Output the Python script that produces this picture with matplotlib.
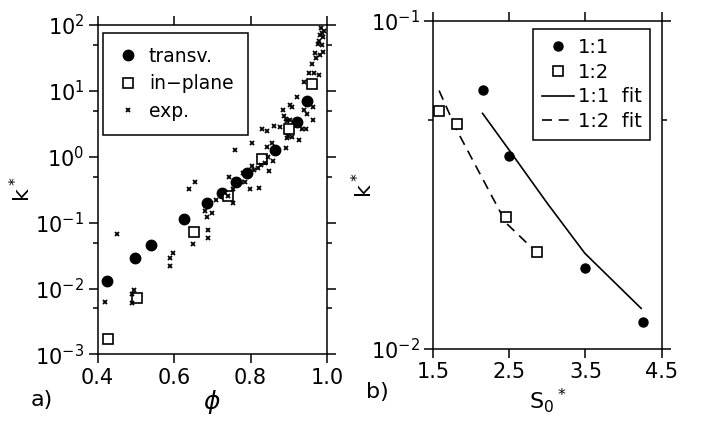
import numpy as np
import matplotlib.pyplot as plt
from matplotlib.ticker import LogLocator, NullFormatter, FixedLocator

# panel a) -- k* vs phi
phi_tr = [0.426, 0.498, 0.539, 0.625, 0.686, 0.725, 0.761, 0.790, 0.865, 0.921, 0.948]
k_tr = [0.0129, 0.0288, 0.0454, 0.114, 0.196, 0.281, 0.418, 0.566, 1.26, 3.35, 7.05]

phi_ip = [0.428, 0.502, 0.652, 0.741, 0.831, 0.900, 0.962]
k_ip = [0.00169, 0.00715, 0.0723, 0.251, 0.933, 2.62, 12.6]

phi_exp = [0.420, 0.450, 0.489, 0.489, 0.496, 0.590, 0.590, 0.597, 0.639, 0.650,
           0.655, 0.681, 0.685, 0.690, 0.690, 0.699, 0.709, 0.733, 0.742, 0.745,
           0.753, 0.755, 0.759, 0.759, 0.775, 0.780, 0.786, 0.799, 0.803, 0.805,
           0.810, 0.820, 0.823, 0.827, 0.829, 0.838, 0.844, 0.844, 0.847, 0.848,
           0.855, 0.860, 0.862, 0.877, 0.884, 0.888, 0.893, 0.893, 0.895, 0.895,
           0.899, 0.903, 0.903, 0.908, 0.909, 0.921, 0.928, 0.934, 0.940, 0.941,
           0.945, 0.947, 0.952, 0.952, 0.962, 0.963, 0.964, 0.967, 0.969, 0.970,
           0.976, 0.979, 0.980, 0.982, 0.982, 0.984, 0.986, 0.986, 0.989, 0.990,
           0.992]
k_exp = [6.2e-3, 6.8e-2, 8.3e-3, 6.0e-3, 9.5e-3, 2.9e-2, 2.2e-2, 3.5e-2, 0.32, 4.7e-2,
         0.42, 0.15, 0.12, 7.8e-2, 5.8e-2, 0.14, 0.22, 0.28, 0.25, 0.49,
         0.20, 0.32, 1.26, 0.45, 0.41, 0.56, 0.41, 0.32, 1.6, 0.72,
         0.62, 0.68, 0.34, 0.76, 2.6, 0.81, 2.5, 1.4, 0.99, 0.60,
         1.6, 0.85, 2.95, 2.8, 5.2, 4.1, 3.7, 1.35, 3.5, 1.9,
         2.1, 6.2, 3.6, 2.0, 5.6, 8.1, 1.8, 2.6, 5.2, 13.8,
         2.6, 4.5, 18.6, 7.2, 25.7, 5.6, 3.6, 18.6, 37, 32,
         52, 17.4, 58, 71, 35, 89, 76, 50, 65, 39,
         81]

# panel b) -- k* vs S0*
s_11 = [2.15, 2.50, 3.50, 4.25]
k_11 = [0.0616, 0.0387, 0.0177, 0.0121]
s_12 = [1.58, 1.81, 2.46, 2.87]
k_12 = [0.0532, 0.0484, 0.0252, 0.0197]
s_11fit = [2.15, 2.50, 3.00, 3.49, 4.23]
k_11fit = [0.0523, 0.0404, 0.0278, 0.0196, 0.0133]
s_12fit = [1.58, 1.81, 2.46, 2.87]
k_12fit = [0.0614, 0.0466, 0.0242, 0.0196]

plt.rcParams['font.family'] = 'DejaVu Sans'
plt.rcParams['axes.linewidth'] = 1.1
plt.rcParams['mathtext.default'] = 'regular'

fig = plt.figure(figsize=(7.04, 4.21), dpi=100)
ax1 = fig.add_axes([0.1385, 0.158, 0.326, 0.7827])
ax2 = fig.add_axes([0.615, 0.171, 0.325, 0.779])

ax1.plot(phi_tr, k_tr, 'o', color='black', ms=7.5, label='transv.')
ax1.plot(phi_ip, k_ip, 's', mfc='white', mec='black', mew=1.2, ms=7, label='in\u2212plane')
ax1.plot(phi_exp, k_exp, 'x', color='black', ms=3.2, mew=1.3, label='exp.')
ax1.set_yscale('log')
ax1.set_xlim(0.4, 1.0)
ax1.set_ylim(1e-3, 1e2)
ax1.set_xticks([0.4, 0.6, 0.8, 1.0])
ax1.set_xticklabels(['0.4', '0.6', '0.8', '1.0'])
ax1.yaxis.set_major_locator(LogLocator(base=10, numticks=10))
ax1.yaxis.set_minor_locator(LogLocator(base=10, subs=[5.0], numticks=10))
ax1.yaxis.set_minor_formatter(NullFormatter())
ax1.set_xlabel(r'$\it{\phi}$', fontsize=18, labelpad=0)
ax1.set_ylabel('k$^*$', fontsize=16, labelpad=1)
leg1 = ax1.legend(loc='upper left', bbox_to_anchor=(0.024, 0.976), borderaxespad=0,
                  fontsize=13.5, fancybox=False, edgecolor='black', framealpha=1,
                  handlelength=1.2, handletextpad=0.5, labelspacing=0.45, borderpad=0.75)
leg1.get_frame().set_linewidth(1.1)
fig.text(0.043, 0.035, 'a)', fontsize=16)

ax2.plot(s_11fit, k_11fit, '-', color='black', lw=1.2, label='1:1  fit')
ax2.plot(s_12fit, k_12fit, '--', color='black', lw=1.2, dashes=(6, 4), label='1:2  fit')
ax2.plot(s_11, k_11, 'o', color='black', ms=6.5, label='1:1')
ax2.plot(s_12, k_12, 's', mfc='white', mec='black', mew=1.2, ms=6.5, label='1:2')
ax2.set_yscale('log')
ax2.set_xlim(1.5, 4.5)
ax2.set_ylim(1e-2, 1e-1)
ax2.set_xticks([1.5, 2.5, 3.5, 4.5])
ax2.set_xticklabels(['1.5', '2.5', '3.5', '4.5'])
ax2.yaxis.set_major_locator(FixedLocator([1e-2, 1e-1]))
ax2.yaxis.set_minor_locator(FixedLocator([5e-2]))
ax2.yaxis.set_minor_formatter(NullFormatter())
ax2.set_xlabel('S$_0$$^*$', fontsize=16, labelpad=3)
ax2.set_ylabel('k$^*$', fontsize=16, labelpad=-4)
h, l = ax2.get_legend_handles_labels()
order = [2, 3, 0, 1]
leg2 = ax2.legend([h[i] for i in order], [l[i] for i in order],
                  loc='upper left', bbox_to_anchor=(0.437, 0.976), borderaxespad=0,
                  fontsize=14, fancybox=False, edgecolor='black', framealpha=1,
                  handlelength=1.65, handletextpad=0.2, labelspacing=0.3, borderpad=0.45)
leg2.get_frame().set_linewidth(1.1)
fig.text(0.52, 0.055, 'b)', fontsize=16)

for ax in (ax1, ax2):
    ax.tick_params(which='both', direction='out', top=True, right=True, labelsize=15, width=1.1)
    ax.tick_params(which='major', length=6.5, pad=3)
    ax.tick_params(which='minor', length=3.5)

fig.savefig('out.png', dpi=100)
